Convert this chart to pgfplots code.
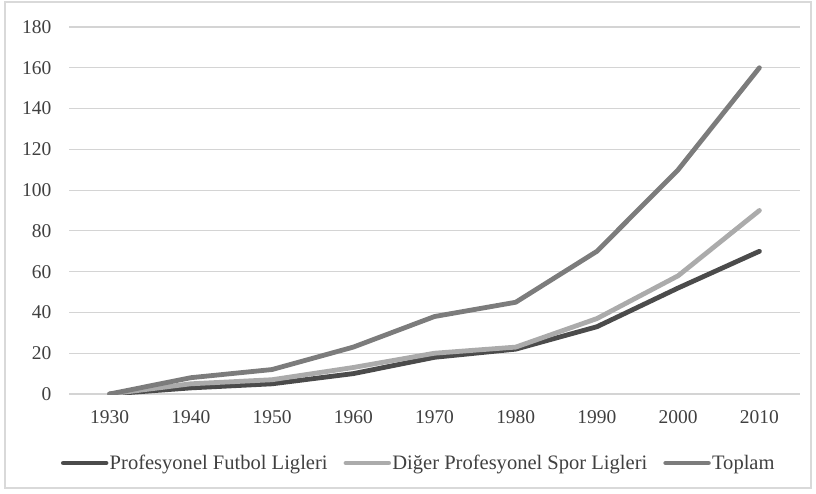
\documentclass[border=0pt]{standalone}
\usepackage{fontspec}
\setmainfont{Liberation Serif}
\usepackage{graphicx}
\usepackage{pgfplots}
\pgfplotsset{compat=1.18}
\definecolor{cdark}{HTML}{4B4B4B}
\definecolor{clight}{HTML}{ABABAB}
\definecolor{cmid}{HTML}{7C7C7C}
\definecolor{cgrid}{HTML}{D4D4D4}
\definecolor{cframe}{HTML}{D9D9D9}
\newcommand{\tf}{\fontsize{14.6}{17}\selectfont}
\begin{document}
\begin{tikzpicture}
\path[use as bounding box] (-51.75pt,-74.25pt) rectangle (560.25pt,295.5pt);
\draw[cframe, line width=0.9pt] (-48pt,-70.5pt) rectangle (556.5pt,294pt);
\begin{axis}[
  at={(0pt,0pt)}, anchor=south west,
  scale only axis,
  width=548.25pt, height=275.25pt,
  xmin=-0.5, xmax=8.5, ymin=0, ymax=180,
  axis line style={draw=none},
  xtick={0,...,8},
  xticklabels={\tf 1930,\tf 1940,\tf 1950,\tf 1960,\tf 1970,\tf 1980,\tf 1990,\tf 2000,\tf 2010},
  ytick={0,20,...,180},
  yticklabel={\tf\pgfmathprintnumber{\tick}},
  ymajorgrids, grid style={cgrid, line width=0.9pt},
  major tick length=0pt,
  tick style={draw=none},
  /pgf/number format/assume math mode=true,
  xticklabel style={anchor=north, inner sep=0pt, yshift=-12pt, text=black!75},
  yticklabel style={anchor=east, inner sep=0pt, xshift=-13pt, text=black!75},
  legend columns=3,
  legend style={at={(0.478,-0.188)}, anchor=center, draw=none, fill=none,
    font=\fontsize{15.4}{18}\selectfont, text=black!75,
    /tikz/every even column/.append style={column sep=11pt},
    nodes={inner sep=1pt}},
  legend image code/.code={\draw[#1] (0pt,0pt) -- (32pt,0pt);},
  every axis plot/.append style={line width=3.6pt, line cap=round, line join=round},
]
\addplot[cdark] coordinates {(0,0) (1,3) (2,5) (3,10) (4,18) (5,22) (6,33) (7,52) (8,70)};
\addlegendentry{Profesyonel Futbol Ligleri}
\addplot[clight] coordinates {(0,0) (1,5) (2,7) (3,13) (4,20) (5,23) (6,37) (7,58) (8,90)};
\addlegendentry{Diğer Profesyonel Spor Ligleri}
\addplot[cmid] coordinates {(0,0) (1,8) (2,12) (3,23) (4,38) (5,45) (6,70) (7,110) (8,160)};
\addlegendentry{Toplam}
\end{axis}
\end{tikzpicture}
\end{document}
